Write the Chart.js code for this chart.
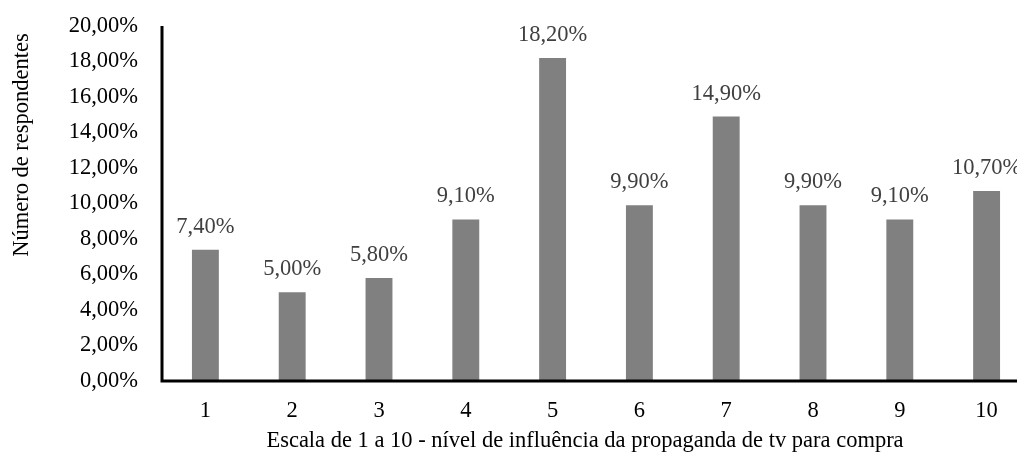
<!DOCTYPE html>
<html>
<head>
<meta charset="utf-8">
<script src="https://cdn.jsdelivr.net/npm/chart.js@4.4.1/dist/chart.umd.min.js"></script>
<style>
    html, body { margin: 0; padding: 0; background: #fff; overflow: hidden; }
    #wrap { width: 1017px; height: 459px; overflow: hidden; }
    #box { width: 1040px; height: 459px; position: relative; }
</style>
</head>
<body>
<div id="wrap"><div id="box"><canvas id="chart"></canvas></div></div>
<script>
const categories = ['1', '2', '3', '4', '5', '6', '7', '8', '9', '10'];
const percentages = [7.4, 5.0, 5.8, 9.1, 18.2, 9.9, 14.9, 9.9, 9.1, 10.7];
const yTicks = [0, 2, 4, 6, 8, 10, 12, 14, 16, 18, 20];
const xTitle = 'Escala de 1 a 10 - nível de influência da propaganda de tv para compra';
const yTitle = 'Número de respondentes';

const serif = "'Liberation Serif', 'Times New Roman', serif";
const fontSize = 22.5;

function fmtPct(v) {
    return v.toFixed(2).replace('.', ',') + '%';
}

// draws the value above each bar
const barLabels = {
    id: 'barLabels',
    afterDatasetsDraw(chart) {
        const ctx = chart.ctx;
        const meta = chart.getDatasetMeta(0);
        ctx.save();
        ctx.font = fontSize + 'px ' + serif;
        ctx.fillStyle = '#404040';
        ctx.textAlign = 'center';
        ctx.textBaseline = 'alphabetic';
        meta.data.forEach((bar, i) => {
            ctx.fillText(fmtPct(percentages[i]), bar.x, bar.y - 17);
        });
        ctx.restore();
    }
};

// thick black axis lines + axis titles
const axisLines = {
    id: 'axisLines',
    afterDraw(chart) {
        const a = chart.chartArea;
        const ctx = chart.ctx;
        ctx.save();
        ctx.strokeStyle = '#000';
        ctx.lineWidth = 3;
        ctx.beginPath();
        ctx.moveTo(a.left, a.top);
        ctx.lineTo(a.left, a.bottom);
        ctx.lineTo(a.right, a.bottom);
        ctx.stroke();

        ctx.fillStyle = '#000';
        ctx.font = fontSize + 'px ' + serif;
        ctx.textAlign = 'center';
        ctx.textBaseline = 'alphabetic';
        ctx.fillText(xTitle, 585, 447);

        ctx.translate(22, 145);
        ctx.rotate(-Math.PI / 2);
        ctx.textBaseline = 'middle';
        ctx.fillText(yTitle, 0, 0);
        ctx.restore();
    }
};

const ctx = document.getElementById('chart').getContext('2d');
new Chart(ctx, {
    type: 'bar',
    data: {
        labels: categories,
        datasets: [{
            data: percentages,
            backgroundColor: '#808080',
            barPercentage: 0.31,
            categoryPercentage: 1.0
        }]
    },
    options: {
        responsive: true,
        maintainAspectRatio: false,
        animation: false,
        layout: { padding: { top: 26, right: 10, left: 0, bottom: 0 } },
        plugins: {
            legend: { display: false },
            tooltip: { enabled: false }
        },
        scales: {
            x: {
                grid: { display: false, drawTicks: false },
                border: { display: false },
                ticks: {
                    color: '#000',
                    font: { family: serif, size: fontSize },
                    padding: 17
                },
                afterFit(scale) { scale.height = 78; }
            },
            y: {
                min: 0,
                max: 20,
                afterBuildTicks(scale) {
                    scale.ticks = yTicks.map(v => ({ value: v }));
                },
                grid: { display: false, drawTicks: false },
                border: { display: false },
                ticks: {
                    color: '#000',
                    font: { family: serif, size: fontSize },
                    padding: 24,
                    callback: v => fmtPct(v)
                },
                afterFit(scale) {
                    scale.width = 162;
                    scale.paddingTop = 0;
                    scale.paddingBottom = 0;
                }
            }
        }
    },
    plugins: [barLabels, axisLines]
});
</script>
</body>
</html>
